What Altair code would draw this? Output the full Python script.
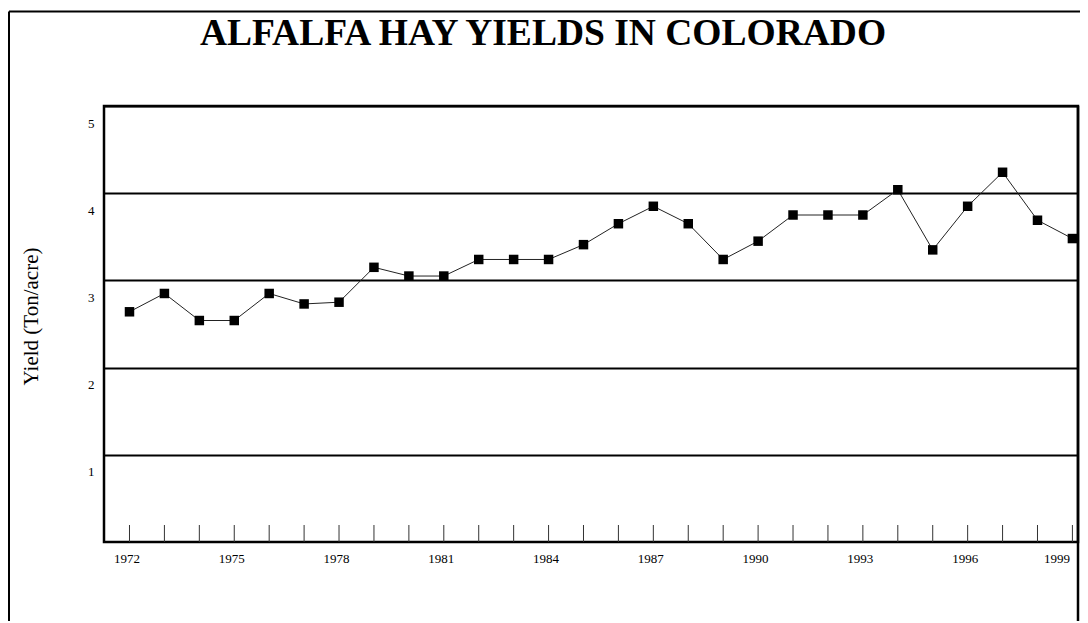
import altair as alt
import pandas as pd

TITLE = "ALFALFA HAY YIELDS IN COLORADO"
Y_TITLE = "Yield (Ton/acre)"

years = list(range(1972, 2000))
yields = [2.64, 2.85, 2.54, 2.54, 2.85, 2.73, 2.75, 3.15, 3.05, 3.05,
          3.24, 3.24, 3.24, 3.41, 3.65, 3.85, 3.65, 3.24, 3.45, 3.75,
          3.75, 3.75, 4.04, 3.35, 3.85, 4.24, 3.69, 3.48]
x_label_years = [1972, 1975, 1978, 1981, 1984, 1987, 1990, 1993, 1996, 1999]
y_ticks = [1, 2, 3, 4, 5]

FONT = "Liberation Serif"
W, H = 974, 436

df = pd.DataFrame({"year": years, "yield": yields})
ticks_df = pd.DataFrame({"year": years})
one = pd.DataFrame({"title": [TITLE]})

xscale = alt.Scale(domain=[1971.27, 1999.16], nice=False, zero=False)
yscale = alt.Scale(domain=[0, 5], nice=False)

x_enc = alt.X("year:Q", scale=xscale, axis=alt.Axis(
    values=x_label_years, format="d", grid=False, ticks=False, domain=False,
    labelPadding=10, labelOffset=-3, labelFlush=7, labelFont=FONT,
    labelFontSize=13, labelColor="black", title=None))
y_enc = alt.Y("yield:Q", scale=yscale, axis=alt.Axis(
    values=y_ticks, format="d", grid=True, gridColor="black", gridWidth=2,
    gridOpacity=1, ticks=False, domain=False, labelOffset=17, labelPadding=10,
    labelFont=FONT, labelFontSize=13, labelColor="black",
    title=Y_TITLE, titleFont=FONT, titleFontSize=21, titleFontWeight="normal",
    titleColor="black", titleAngle=270, titleX=-73, titleY=210,
    titleAlign="center", titleBaseline="middle"))

line = alt.Chart(df).mark_line(color="#222222", strokeWidth=1).encode(x=x_enc, y=y_enc)
points = alt.Chart(df).mark_square(size=90, color="black", opacity=1).encode(
    x=alt.X("year:Q", scale=xscale), y=alt.Y("yield:Q", scale=yscale))

tick_rules = alt.Chart(ticks_df).mark_rule(color="#333333", strokeWidth=1).encode(
    x=alt.X("year:Q", scale=xscale), y=alt.value(H), y2=alt.value(H - 17))

frame_left = alt.Chart(one).mark_rule(color="black", strokeWidth=2).encode(
    x=alt.value(-95), y=alt.value(-94.5), y2=alt.value(H + 90))
frame_top = alt.Chart(one).mark_rule(color="black", strokeWidth=2).encode(
    x=alt.value(-95), x2=alt.value(W + 20), y=alt.value(-94.5))
frame_right = alt.Chart(one).mark_rule(color="black", strokeWidth=2.5).encode(
    x=alt.value(W), y=alt.value(0), y2=alt.value(H + 90))

title = alt.Chart(one).mark_text(
    font=FONT, fontSize=37.5, fontWeight="bold", align="center",
    baseline="alphabetic", color="black").encode(
    text="title:N", x=alt.value(439), y=alt.value(-61))

chart = alt.layer(tick_rules, line, points, frame_left, frame_top, frame_right, title).properties(
    width=W, height=H,
    autosize=alt.AutoSizeParams(type="none"),
    padding={"left": 96, "top": 98, "right": 2, "bottom": 79},
    background="white",
).configure_view(stroke="black", strokeWidth=2.5)

chart.save("out.html", embed_options={"renderer": "svg", "actions": False})
